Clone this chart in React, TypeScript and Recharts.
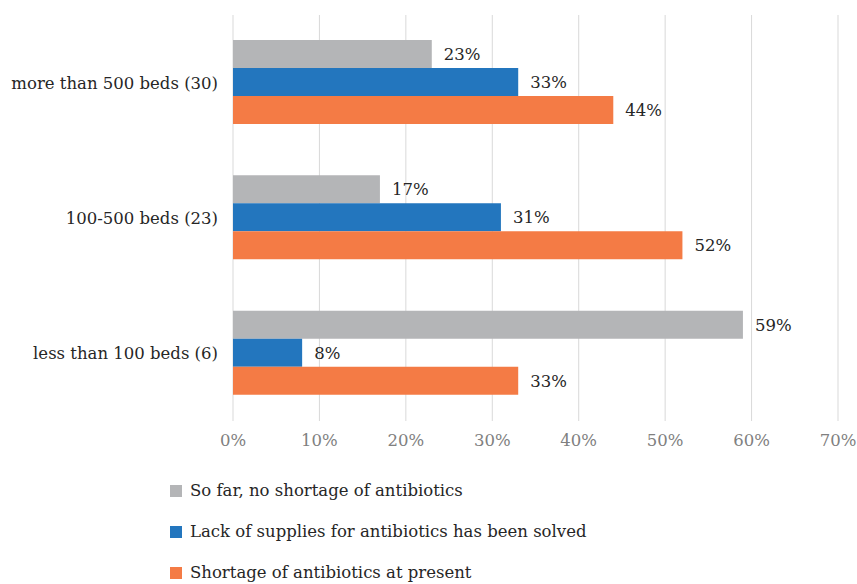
import React from "react"
import { BarChart, Bar, XAxis, YAxis, CartesianGrid, Legend, LabelList } from "recharts"

const categories = ["more than 500 beds (30)", "100-500 beds (23)", "less than 100 beds (6)"]
const noShortage = [23, 17, 59]
const solved = [33, 31, 8]
const shortage = [44, 52, 33]
const xTicks = [0, 10, 20, 30, 40, 50, 60, 70]

const SERIES = [
  { key: "noShortage", name: "So far, no shortage of antibiotics", color: "#B4B5B7" },
  { key: "solved", name: "Lack of supplies for antibiotics has been solved", color: "#2376BE" },
  { key: "shortage", name: "Shortage of antibiotics at present", color: "#F47B45" },
]

const data = categories.map((c, i) => ({
  name: c,
  noShortage: noShortage[i],
  solved: solved[i],
  shortage: shortage[i],
}))

const FONT = "'DejaVu Serif', serif"
const FS = 16.5

function LegendContent() {
  return (
    <div style={{ fontFamily: FONT, fontSize: FS, color: "#262626" }}>
      {SERIES.map((s) => (
        <div key={s.key} style={{ display: "flex", alignItems: "center", height: 41 }}>
          <span style={{ width: 12, height: 12, background: s.color, display: "inline-block", marginRight: 8 }} />
          <span>{s.name}</span>
        </div>
      ))}
    </div>
  )
}

export default function App() {
  return (
    <div style={{ position: "absolute", left: 0, top: 0, background: "#fff" }}>
      <BarChart
        width={857}
        height={584}
        data={data}
        layout="vertical"
        margin={{ top: 15, right: 19, left: 0, bottom: 133 }}
        barCategoryGap="18.5%"
        barGap={0}
      >
        <CartesianGrid horizontal={false} stroke="#D9D9D9" />
        <XAxis
          type="number"
          domain={[0, 70]}
          ticks={xTicks}
          height={30}
          tickFormatter={(v) => `${v}%`}
          axisLine={false}
          tickLine={false}
          tickSize={0}
          tickMargin={13}
          tick={{ fontFamily: FONT, fontSize: FS, fill: "#808080" }}
        />
        <YAxis
          type="category"
          dataKey="name"
          width={233}
          axisLine={false}
          tickLine={false}
          tickSize={0}
          tickMargin={15}
          tick={{ fontFamily: FONT, fontSize: FS, fill: "#262626" }}
        />
        <Legend
          layout="horizontal"
          verticalAlign="middle"
          align="center"
          wrapperStyle={{ left: 170, top: 470, width: 600 }}
          content={() => <LegendContent />}
        />
        {SERIES.map((s) => (
          <Bar key={s.key} dataKey={s.key} name={s.name} fill={s.color} isAnimationActive={false}>
            <LabelList
              dataKey={s.key}
              position="right"
              offset={12}
              formatter={(v: any) => `${v}%`}
              style={{ fontFamily: FONT, fontSize: FS, fill: "#262626" }}
            />
          </Bar>
        ))}
      </BarChart>
    </div>
  )
}
